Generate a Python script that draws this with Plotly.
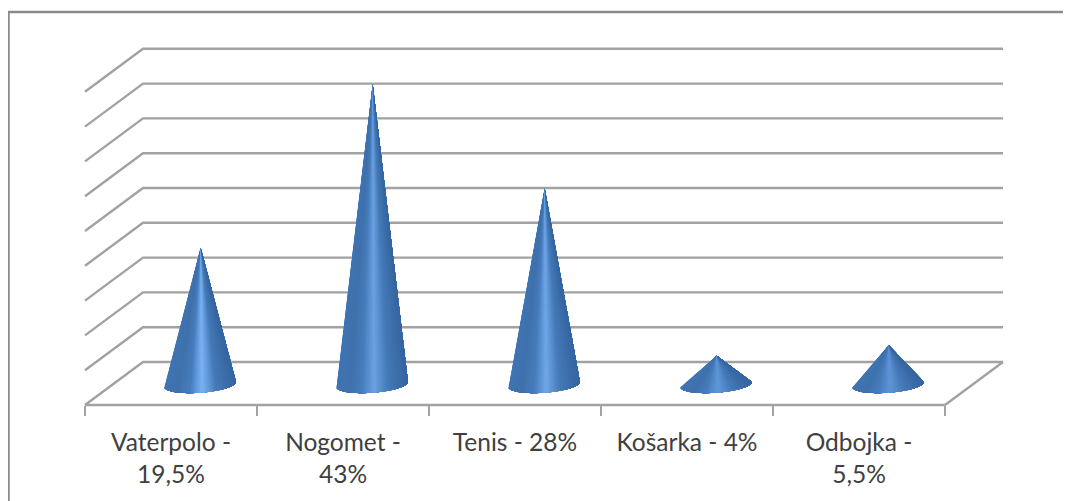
import math
import plotly.graph_objects as go

categories = ["Vaterpolo", "Nogomet", "Tenis", "Košarka", "Odbojka"]
values = [19.5, 43, 28, 4, 5.5]
tick_labels = ["Vaterpolo -<br>19,5%", "Nogomet -<br>43%", "Tenis - 28%", "Košarka - 4%", "Odbojka -<br>5,5%"]
grid_values = [0, 5, 10, 15, 20, 25, 30, 35, 40, 45]

# geometry of the faux-3D chart (the page has an 8 px body margin)
W, H = 1063, 493
PAD_L, PAD_R, PAD_T, PAD_B = 74, 998, 37, 399
X0_PX, X_SCALE = 77, 172
Y0_PX, Y_SCALE = 397, 6.96
DEPTH_X = 58 / 172
DEPTH_Y = 6.18
GRID = "#a2a2a2"
FRAME = "#8a8a8a"
peak_colors = ["#7ab4f6", "#6ca2e2", "#70a8e8", "#6099da", "#5e96d8"]
R_X = 0.209
ELL_H = 1.2
ELL_TILT = 0.36
N_STRIPS = 60


def hex2rgb(c):
    return tuple(int(c[i:i + 2], 16) for i in (1, 3, 5))


def mix(a, b, f):
    return tuple(a[k] + (b[k] - a[k]) * f for k in range(3))


def shade(t, peak):
    stops = [(-1.0, "#4075b4"), (-0.62, "#3f71ac"), (-0.28, "#477dbc"), (0.06, peak),
             (0.45, "#457ab8"), (0.8, "#3b6ca8"), (1.0, "#3566a2")]
    for (t0, c0), (t1, c1) in zip(stops, stops[1:]):
        if t <= t1:
            r = mix(hex2rgb(c0), hex2rgb(c1), (t - t0) / (t1 - t0))
            return "rgb(%d,%d,%d)" % r
    return stops[-1][1]


fig = go.Figure()


def line(xs, ys, color=GRID, width=2.4):
    fig.add_trace(go.Scatter(x=xs, y=ys, mode="lines", line=dict(color=color, width=width),
                             cliponaxis=False, hoverinfo="skip", showlegend=False))


# walls and floor
for v in grid_values:
    line([0, DEPTH_X, 5 + DEPTH_X], [v, v + DEPTH_Y, v + DEPTH_Y])
line([5, 5 + DEPTH_X], [0, DEPTH_Y])
line([0, 5], [0, 0])


def base_pt(i, t):
    cx = i + 0.5 + DEPTH_X / 2
    cy = DEPTH_Y / 2 - 0.14
    return cx + R_X * t, cy - ELL_H * math.sqrt(max(0, 1 - t * t)) + ELL_TILT * t


# cones: painter's fan, each polygon covers the rest of the cone to its right
ts = [-math.cos(math.pi * s / N_STRIPS) for s in range(N_STRIPS + 1)]
for i, (name, val) in enumerate(zip(categories, values)):
    ax = i + 0.5 + DEPTH_X / 2 + 0.004
    ay = DEPTH_Y / 2 + val
    for s in range(N_STRIPS):
        arc = [base_pt(i, t) for t in ts[s:]]
        c = shade((ts[s] + ts[s + 1]) / 2, peak_colors[i])
        fig.add_trace(go.Scatter(x=[ax] + [p[0] for p in arc] + [ax],
                                 y=[ay] + [p[1] for p in arc] + [ay],
                                 mode="lines", fill="toself", fillcolor=c,
                                 line=dict(width=0), name=name,
                                 cliponaxis=False, hoverinfo="skip", showlegend=False))

pw, ph = PAD_R - PAD_L, PAD_B - PAD_T


def px(x):
    return (x - 8 - PAD_L) / pw


def py(y):
    return (PAD_B - (y - 8)) / ph


frame = [dict(type="line", xref="paper", yref="paper", x0=px(8.5), x1=px(8.5), y0=py(12), y1=py(501),
              line=dict(color=FRAME, width=2.5)),
         dict(type="line", xref="paper", yref="paper", x0=px(8), x1=px(1071), y0=py(12), y1=py(12),
              line=dict(color=FRAME, width=2.5))]

fig.update_layout(
    width=W, height=H, autosize=False,
    margin=dict(l=PAD_L, r=W - PAD_R, t=PAD_T, b=H - PAD_B),
    paper_bgcolor="white", plot_bgcolor="rgba(0,0,0,0)",
    shapes=frame,
    font=dict(family="Lato, 'Open Sans', sans-serif", size=24.5, color="#404040"),
    xaxis=dict(range=[(PAD_L - X0_PX) / X_SCALE, (PAD_R - X0_PX) / X_SCALE],
               tickmode="array", tickvals=[k + 0.5 for k in range(5)],
               ticktext=tick_labels, ticks="outside", ticklen=16, tickcolor="rgba(0,0,0,0)", tickwidth=1,
               showgrid=False, zeroline=False, showline=False, tickangle=0,
               anchor="free", position=(PAD_B - Y0_PX) / ph,
               minor=dict(tickmode="array", tickvals=list(range(6)), ticks="outside", ticklen=10,
                          tickcolor=GRID, tickwidth=2, showgrid=False)),
    yaxis=dict(range=[(Y0_PX - PAD_B) / Y_SCALE, (Y0_PX - PAD_T) / Y_SCALE], visible=False,
               showgrid=False, zeroline=False),
)

fig.write_html("out.html")
